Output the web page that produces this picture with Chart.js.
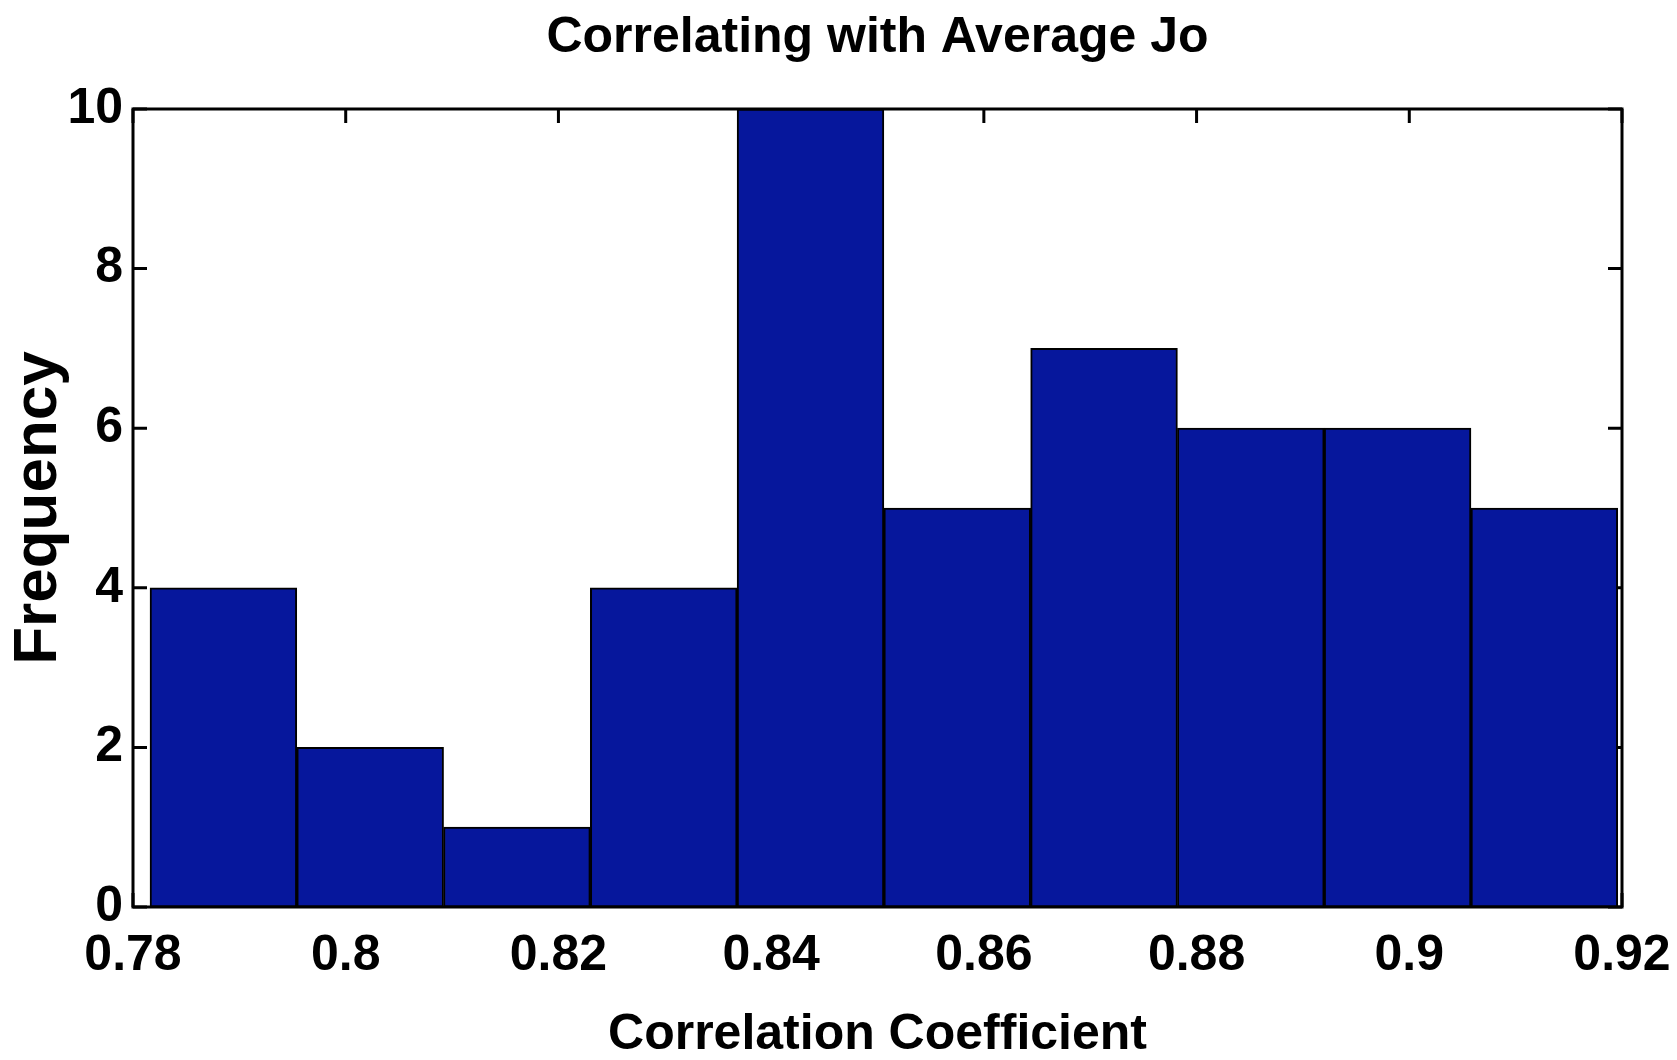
<!DOCTYPE html>
<html>
<head>
<meta charset="utf-8">
<script src="https://cdn.jsdelivr.net/npm/chart.js@4/dist/chart.umd.min.js"></script>
<style>
  body { margin: 0; background: #fff; }
  #wrap { width: 1677px; height: 1060px; position: relative; }
</style>
</head>
<body>
<div id="wrap"><canvas id="hist"></canvas></div>
<script>
// histogram bins
const binEdges = [0.7816, 0.7954, 0.8092, 0.8230, 0.8368, 0.8506, 0.8644, 0.8782, 0.8920, 0.9058, 0.9196]
const counts = [4, 2, 1, 4, 10, 5, 7, 6, 6, 5]
const xTicks = [0.78, 0.80, 0.82, 0.84, 0.86, 0.88, 0.90, 0.92]
const xTickLabels = ['0.78', '0.8', '0.82', '0.84', '0.86', '0.88', '0.9', '0.92']
const yTicks = [0, 2, 4, 6, 8, 10]

const FONT = '"Liberation Sans", Arial, Helvetica, sans-serif'

const points = counts.map((c, i) => ({ x: (binEdges[i] + binEdges[i + 1]) / 2, y: c }))

// matlab style box with inward ticks, drawn under the bars
const boxTicks = {
  id: 'boxTicks',
  beforeDatasetsDraw(chart) {
    const { ctx, chartArea: a, scales } = chart
    const len = 14
    ctx.save()
    ctx.strokeStyle = '#000'
    ctx.lineWidth = 3
    ctx.beginPath()
    xTicks.forEach(v => {
      const px = scales.x.getPixelForValue(v)
      ctx.moveTo(px, a.bottom); ctx.lineTo(px, a.bottom - len)
      ctx.moveTo(px, a.top); ctx.lineTo(px, a.top + len)
    })
    yTicks.forEach(v => {
      const py = scales.y.getPixelForValue(v)
      ctx.moveTo(a.left, py); ctx.lineTo(a.left + len, py)
      ctx.moveTo(a.right, py); ctx.lineTo(a.right - len, py)
    })
    ctx.stroke()
    ctx.strokeRect(a.left, a.top, a.right - a.left, a.bottom - a.top)
    ctx.restore()
  }
}

const config = {
  type: 'bar',
  data: {
    datasets: [{
      data: points,
      backgroundColor: '#06179c',
      borderColor: '#000',
      borderWidth: 2,
      borderSkipped: false,
      barPercentage: 1,
      categoryPercentage: 1
    }]
  },
  options: {
    responsive: true,
    maintainAspectRatio: false,
    animation: false,
    layout: { padding: { top: 0, left: 0, right: 55, bottom: 0 } },
    plugins: {
      legend: { display: false },
      tooltip: { enabled: false },
      title: {
        display: true,
        fullSize: false,
        text: 'Correlating with Average Jo',
        color: '#000',
        font: { family: FONT, size: 50, weight: 'bold', lineHeight: 1.2 },
        padding: { top: 8, bottom: 41 }
      }
    },
    scales: {
      x: {
        type: 'linear',
        min: 0.78,
        max: 0.92,
        offset: false,
        grid: { display: false, drawTicks: false },
        border: { display: false },
        afterBuildTicks(scale) { scale.ticks = xTicks.map(v => ({ value: v })) },
        afterFit(scale) {
          scale.height = 153
          scale.paddingLeft = 0
          scale.paddingRight = 0
        },
        ticks: {
          color: '#000',
          padding: 19,
          maxRotation: 0,
          autoSkip: false,
          font: { family: FONT, size: 50, weight: 'bold', lineHeight: 1.2 },
          callback: (v, i) => xTickLabels[i]
        },
        title: {
          display: true,
          text: 'Correlation Coefficient',
          color: '#000',
          font: { family: FONT, size: 50, weight: 'bold', lineHeight: 1 },
          padding: { top: 0, bottom: 0 }
        }
      },
      y: {
        min: 0,
        max: 10,
        grid: { display: false, drawTicks: false },
        border: { display: false },
        afterBuildTicks(scale) { scale.ticks = yTicks.map(v => ({ value: v })) },
        afterFit(scale) { scale.width = 133 },
        ticks: {
          color: '#000',
          padding: 10,
          font: { family: FONT, size: 50, weight: 'bold', lineHeight: 1.2 }
        },
        title: {
          display: true,
          text: 'Frequency',
          color: '#000',
          font: { family: FONT, size: 62, weight: 'bold', lineHeight: 1 },
          padding: { top: 8, bottom: 0 }
        }
      }
    }
  },
  plugins: [boxTicks]
}

const histChart = new Chart(document.getElementById('hist'), config)
</script>
</body>
</html>
